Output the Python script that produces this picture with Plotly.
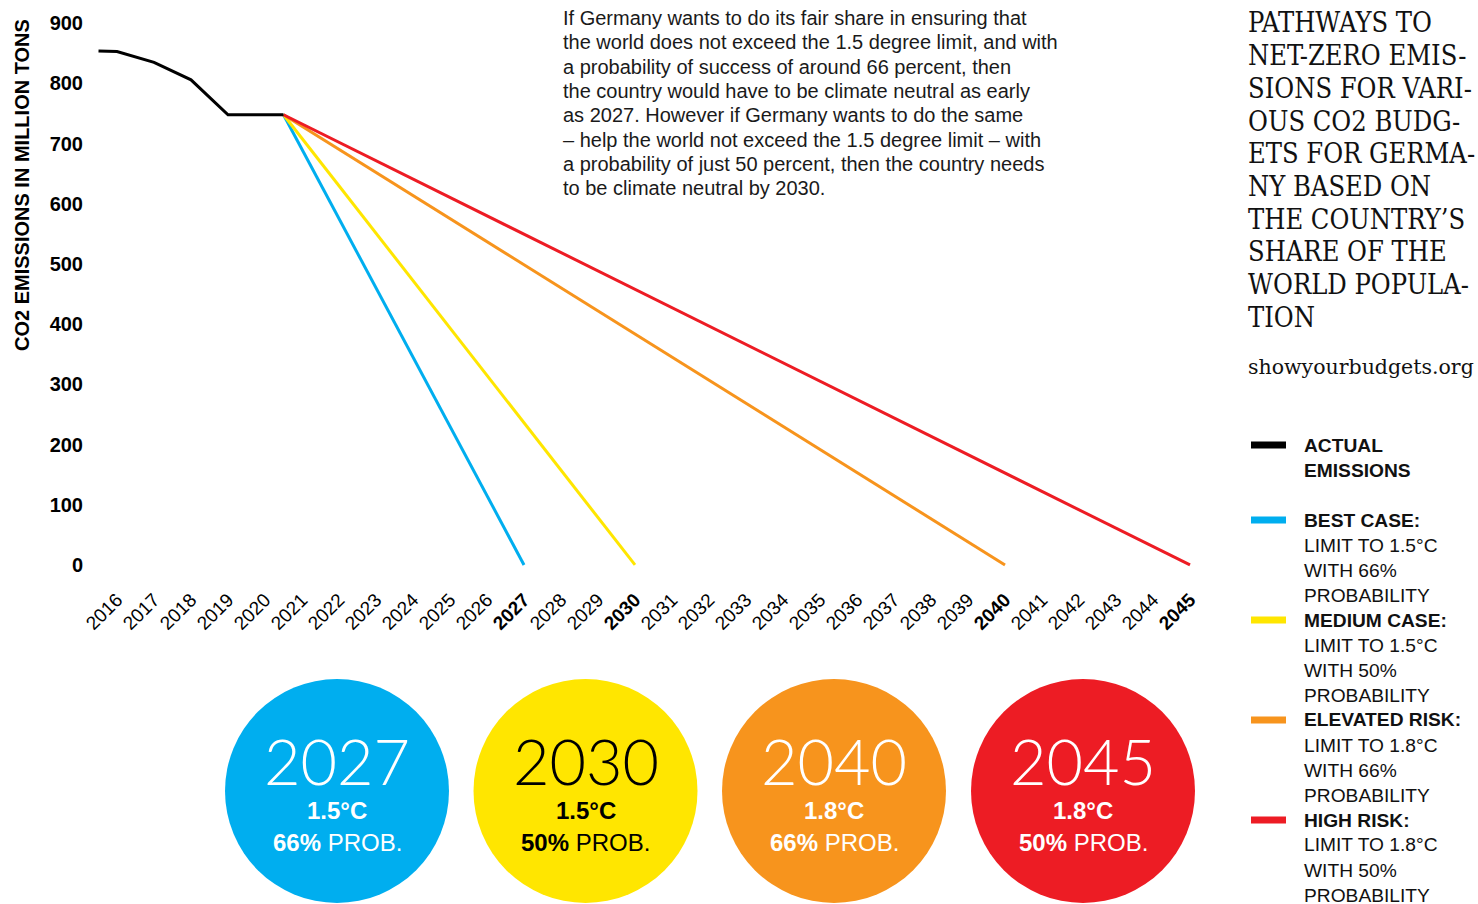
import plotly.graph_objects as go

# ---------------- data ----------------
actual_years = [2015.5, 2016, 2017, 2018, 2019, 2020.5]
actual_emissions = [854, 853, 835, 806, 748, 748]

path_start_year = 2020.5
path_start_value = 748
net_zero_years = [2027, 2030, 2040, 2045]
scenario_names = ["Best case", "Medium case", "Elevated risk", "High risk"]
scenario_colors = ["#00AEEF", "#FFE600", "#F7941D", "#ED1C24"]
circle_text_colors = ["white", "black", "white", "white"]
circle_temps = ["1.5°C", "1.5°C", "1.8°C", "1.8°C"]
circle_probs = ["66%", "50%", "66%", "50%"]

tick_years = list(range(2016, 2046))
bold_years = [2027, 2030, 2040, 2045]
y_ticks = [0, 100, 200, 300, 400, 500, 600, 700, 800, 900]

title_lines = ["PATHWAYS TO", "NET-ZERO EMIS-", "SIONS FOR VARI-", "OUS CO2 BUDG-",
               "ETS FOR GERMA-", "NY BASED ON", "THE COUNTRY’S", "SHARE OF THE",
               "WORLD POPULA-", "TION"]
source_text = "showyourbudgets.org"

paragraph_lines = [
    "If Germany wants to do its fair share in ensuring that",
    "the world does not exceed the 1.5 degree limit, and with",
    "a probability of success of around 66 percent, then",
    "the country would have to be climate neutral as early",
    "as 2027. However if Germany wants to do the same",
    "– help the world not exceed the 1.5 degree limit – with",
    "a probability of just 50 percent, then the country needs",
    "to be climate neutral by 2030.",
]

legend_labels = [
    ["ACTUAL", "EMISSIONS"],
    ["BEST CASE:", "LIMIT TO 1.5°C", "WITH 66%", "PROBABILITY"],
    ["MEDIUM CASE:", "LIMIT TO 1.5°C", "WITH 50%", "PROBABILITY"],
    ["ELEVATED RISK:", "LIMIT TO 1.8°C", "WITH 66%", "PROBABILITY"],
    ["HIGH RISK:", "LIMIT TO 1.8°C", "WITH 50%", "PROBABILITY"],
]
legend_bold_lines = [2, 1, 1, 1, 1]
legend_colors = ["#000000"] + scenario_colors

# ---------------- layout helpers ----------------
W, H = 1478, 904
ML, MR, MT, MB = 90, 278, 10, 324
PW, PH = W - ML - MR, H - MT - MB


def px(x):
    return (x - ML) / PW


def py(y):
    return (H - MB - y) / PH


SANS = "Liberation Sans, Arial, sans-serif"
SERIF_C = "DejaVu Serif Condensed, DejaVu Serif, serif"
SERIF = "DejaVu Serif, serif"

fig = go.Figure()

for name, yr, col in zip(scenario_names, net_zero_years, scenario_colors):
    fig.add_trace(go.Scatter(x=[path_start_year, yr], y=[path_start_value, 0],
                             mode="lines", name=name,
                             line=dict(color=col, width=3)))

fig.add_trace(go.Scatter(x=actual_years, y=actual_emissions, mode="lines",
                         name="Actual emissions",
                         line=dict(color="black", width=3)))

ticktext = [f"<b>{y}</b>" if y in bold_years else str(y) for y in tick_years]

shapes = []
annotations = []

# y-axis title
annotations.append(dict(x=px(22), y=py(185), xref="paper", yref="paper",
                        text="<b>CO2 EMISSIONS IN MILLION TONS</b>", textangle=-90,
                        showarrow=False, font=dict(family=SANS, size=20, color="black"),
                        xanchor="center", yanchor="middle"))

# paragraph
for i, line in enumerate(paragraph_lines):
    annotations.append(dict(x=px(561), y=py(18 + i * 24.3), xref="paper", yref="paper",
                            text=line, showarrow=False, xanchor="left", yanchor="middle",
                            font=dict(family=SANS, size=20, color="#1a1a1a")))

# title
for i, line in enumerate(title_lines):
    annotations.append(dict(x=px(1246), y=py(23 + i * 32.7), xref="paper", yref="paper",
                            text=line, showarrow=False, xanchor="left", yanchor="middle",
                            font=dict(family=SERIF_C, size=27, color="#111111")))
annotations.append(dict(x=px(1246), y=py(367), xref="paper", yref="paper",
                        text=source_text, showarrow=False, xanchor="left", yanchor="middle",
                        font=dict(family=SERIF, size=20.5, color="#111111")))

# legend
legend_first_y = [445, 520, 620, 720, 820]
for lines, nb, col, y0 in zip(legend_labels, legend_bold_lines, legend_colors, legend_first_y):
    shapes.append(dict(type="line", xref="paper", yref="paper",
                       x0=px(1251), x1=px(1286), y0=py(y0), y1=py(y0),
                       line=dict(color=col, width=7)))
    for j, l in enumerate(lines):
        txt = f"<b>{l}</b>" if j < nb else l
        annotations.append(dict(x=px(1302), y=py(y0 + j * 25), xref="paper", yref="paper",
                                text=txt, showarrow=False, xanchor="left", yanchor="middle",
                                font=dict(family=SANS, size=19.2, color="#111111")))

# circles
circle_cx = [337, 585.5, 834, 1083]
r = 112
cy = 791
for cx, col, tcol, yr, temp, prob in zip(circle_cx, scenario_colors, circle_text_colors,
                                         net_zero_years, circle_temps, circle_probs):
    shapes.append(dict(type="circle", xref="paper", yref="paper",
                       x0=px(cx - r), x1=px(cx + r), y0=py(cy + r), y1=py(cy - r),
                       fillcolor=col, line=dict(width=0), layer="below"))
    annotations.append(dict(x=px(cx), y=py(761), xref="paper", yref="paper",
                            text=str(yr), showarrow=False, xanchor="center", yanchor="middle",
                            font=dict(family="Lato, Roboto, sans-serif", size=63,
                                      color=tcol, weight=300)))
    annotations.append(dict(x=px(cx), y=py(810), xref="paper", yref="paper",
                            text=f"<b>{temp}</b>", showarrow=False, xanchor="center",
                            yanchor="middle", font=dict(family=SANS, size=24, color=tcol)))
    annotations.append(dict(x=px(cx), y=py(843), xref="paper", yref="paper",
                            text=f"<b>{prob}</b> PROB.", showarrow=False, xanchor="center",
                            yanchor="middle", font=dict(family=SANS, size=24, color=tcol)))

fig.update_layout(
    width=W, height=H,
    margin=dict(l=ML, r=MR, t=MT, b=MB, autoexpand=False),
    paper_bgcolor="white", plot_bgcolor="white",
    showlegend=False,
    shapes=shapes, annotations=annotations,
    xaxis=dict(range=[2015.27, 2045.27], tickmode="array", tickvals=tick_years,
               ticktext=ticktext, tickangle=-45, showgrid=False, zeroline=False,
               showline=False, ticks="", ticklabelstandoff=4,
               tickfont=dict(family=SANS, size=19, color="black"),
               fixedrange=True),
    yaxis=dict(range=[-25, 922], tickmode="array", tickvals=y_ticks,
               ticktext=[f"<b>{v}</b>" for v in y_ticks], showgrid=False, zeroline=False,
               showline=False, ticks="", ticklabelstandoff=6,
               tickfont=dict(family=SANS, size=20, color="black"),
               fixedrange=True),
)

fig.write_html("out.html", config={"displayModeBar": False})
